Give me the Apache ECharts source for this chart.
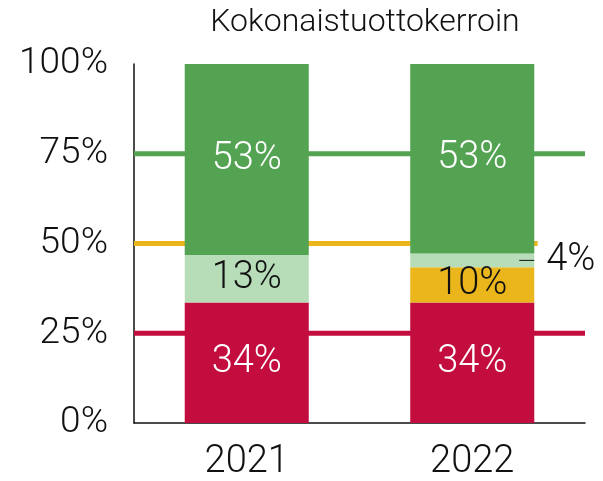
<!DOCTYPE html>
<html>
<head>
  <meta charset="utf-8">
  <title>Kokonaistuottokerroin</title>
  <script src="https://cdn.jsdelivr.net/npm/echarts@6/dist/echarts.min.js"></script>
  <style>
    html, body { margin: 0; padding: 0; background: #fff; }
    #chart { width: 603px; height: 481px; }
  </style>
</head>
<body>
<div id="chart"></div>
<script type="text/javascript">
var years = ['2021', '2022'];
// osuudet prosentteina (luettu kuvasta)
var redVals = [33.6, 33.6];
var yellowVals = [null, 9.8];
var lightGreenVals = [13.2, 3.8];
var greenVals = [53.2, 52.8];
var yTicks = [0, 25, 50, 75, 100];
// vaakaviivat: taso ja loppupiste (0..2 kategoria-asteikolla)
var refLevels = [75, 50, 25];
var refEnds = [2, 1.79, 2];

var FONT = 'Roboto';
var RED = '#C30D3E', GREEN = '#53A353', LGREEN = '#B7DDB8', YELLOW = '#EAB61C';
var refColors = [GREEN, YELLOW, RED];

function pct(p) { return Math.round(p.value) + '%'; }

function barSeries(name, data, color, txt) {
  return {
    name: name, type: 'bar', stack: 'all', data: data, z: 5,
    barWidth: '55%',
    itemStyle: { color: color },
    label: { show: true, position: 'inside', formatter: pct, color: txt,
      fontFamily: FONT, fontWeight: 300, fontSize: 38 }
  };
}

var series = [
  barSeries('red', redVals, RED, '#fff'),
  barSeries('yellow', yellowVals, YELLOW, '#111'),
  barSeries('lightgreen', lightGreenVals, LGREEN, '#111'),
  barSeries('green', greenVals, GREEN, '#fff')
];

// pieni 4% erikseen oikealle viivan kanssa
series[2].label.formatter = function (p) {
  if (p.value < 6) return '{l|}{v|' + Math.round(p.value) + '%}';
  return Math.round(p.value) + '%';
};
series[2].data = lightGreenVals.map(function (v) {
  if (v < 6) return { value: v, label: { position: 'right', offset: [-20, 0] } };
  return v;
});
series[2].label.rich = {
  l: { width: 15, height: 1, backgroundColor: '#111' },
  v: { fontFamily: FONT, fontWeight: 300, fontSize: 38, color: '#111', padding: [0, 0, 0, 12] }
};

refLevels.forEach(function (lv, i) {
  series.push({
    type: 'line', xAxisIndex: 1, z: 1, symbol: 'none', silent: true,
    data: [[0, lv], [refEnds[i], lv]],
    lineStyle: { color: refColors[i], width: 5 }
  });
});

var chart = echarts.init(document.getElementById('chart'));
chart.setOption({
  animation: false,
  title: {
    text: 'Kokonaistuottokerroin', left: 360, top: 2, textAlign: 'center',
    textStyle: { fontFamily: FONT, fontWeight: 300, fontSize: 32, color: '#111' }
  },
  grid: { left: 134, right: 18, top: 64, bottom: 58 },
  xAxis: [{
    type: 'category', data: years,
    axisLine: { lineStyle: { color: '#111', width: 1.5 } },
    axisTick: { show: false },
    axisLabel: { fontFamily: FONT, fontWeight: 300, fontSize: 38, color: '#111', margin: 20 }
  }, {
    type: 'value', min: 0, max: 2, show: false
  }],
  yAxis: {
    type: 'value', min: yTicks[0], max: yTicks[yTicks.length - 1], interval: 25,
    axisLine: { show: true, lineStyle: { color: '#111', width: 1.5 } },
    axisTick: { show: false },
    splitLine: { show: false },
    axisLabel: { formatter: '{value}%', fontFamily: FONT, fontWeight: 300, fontSize: 37, color: '#111', margin: 26 }
  },
  series: series
});
</script>
</body>
</html>
